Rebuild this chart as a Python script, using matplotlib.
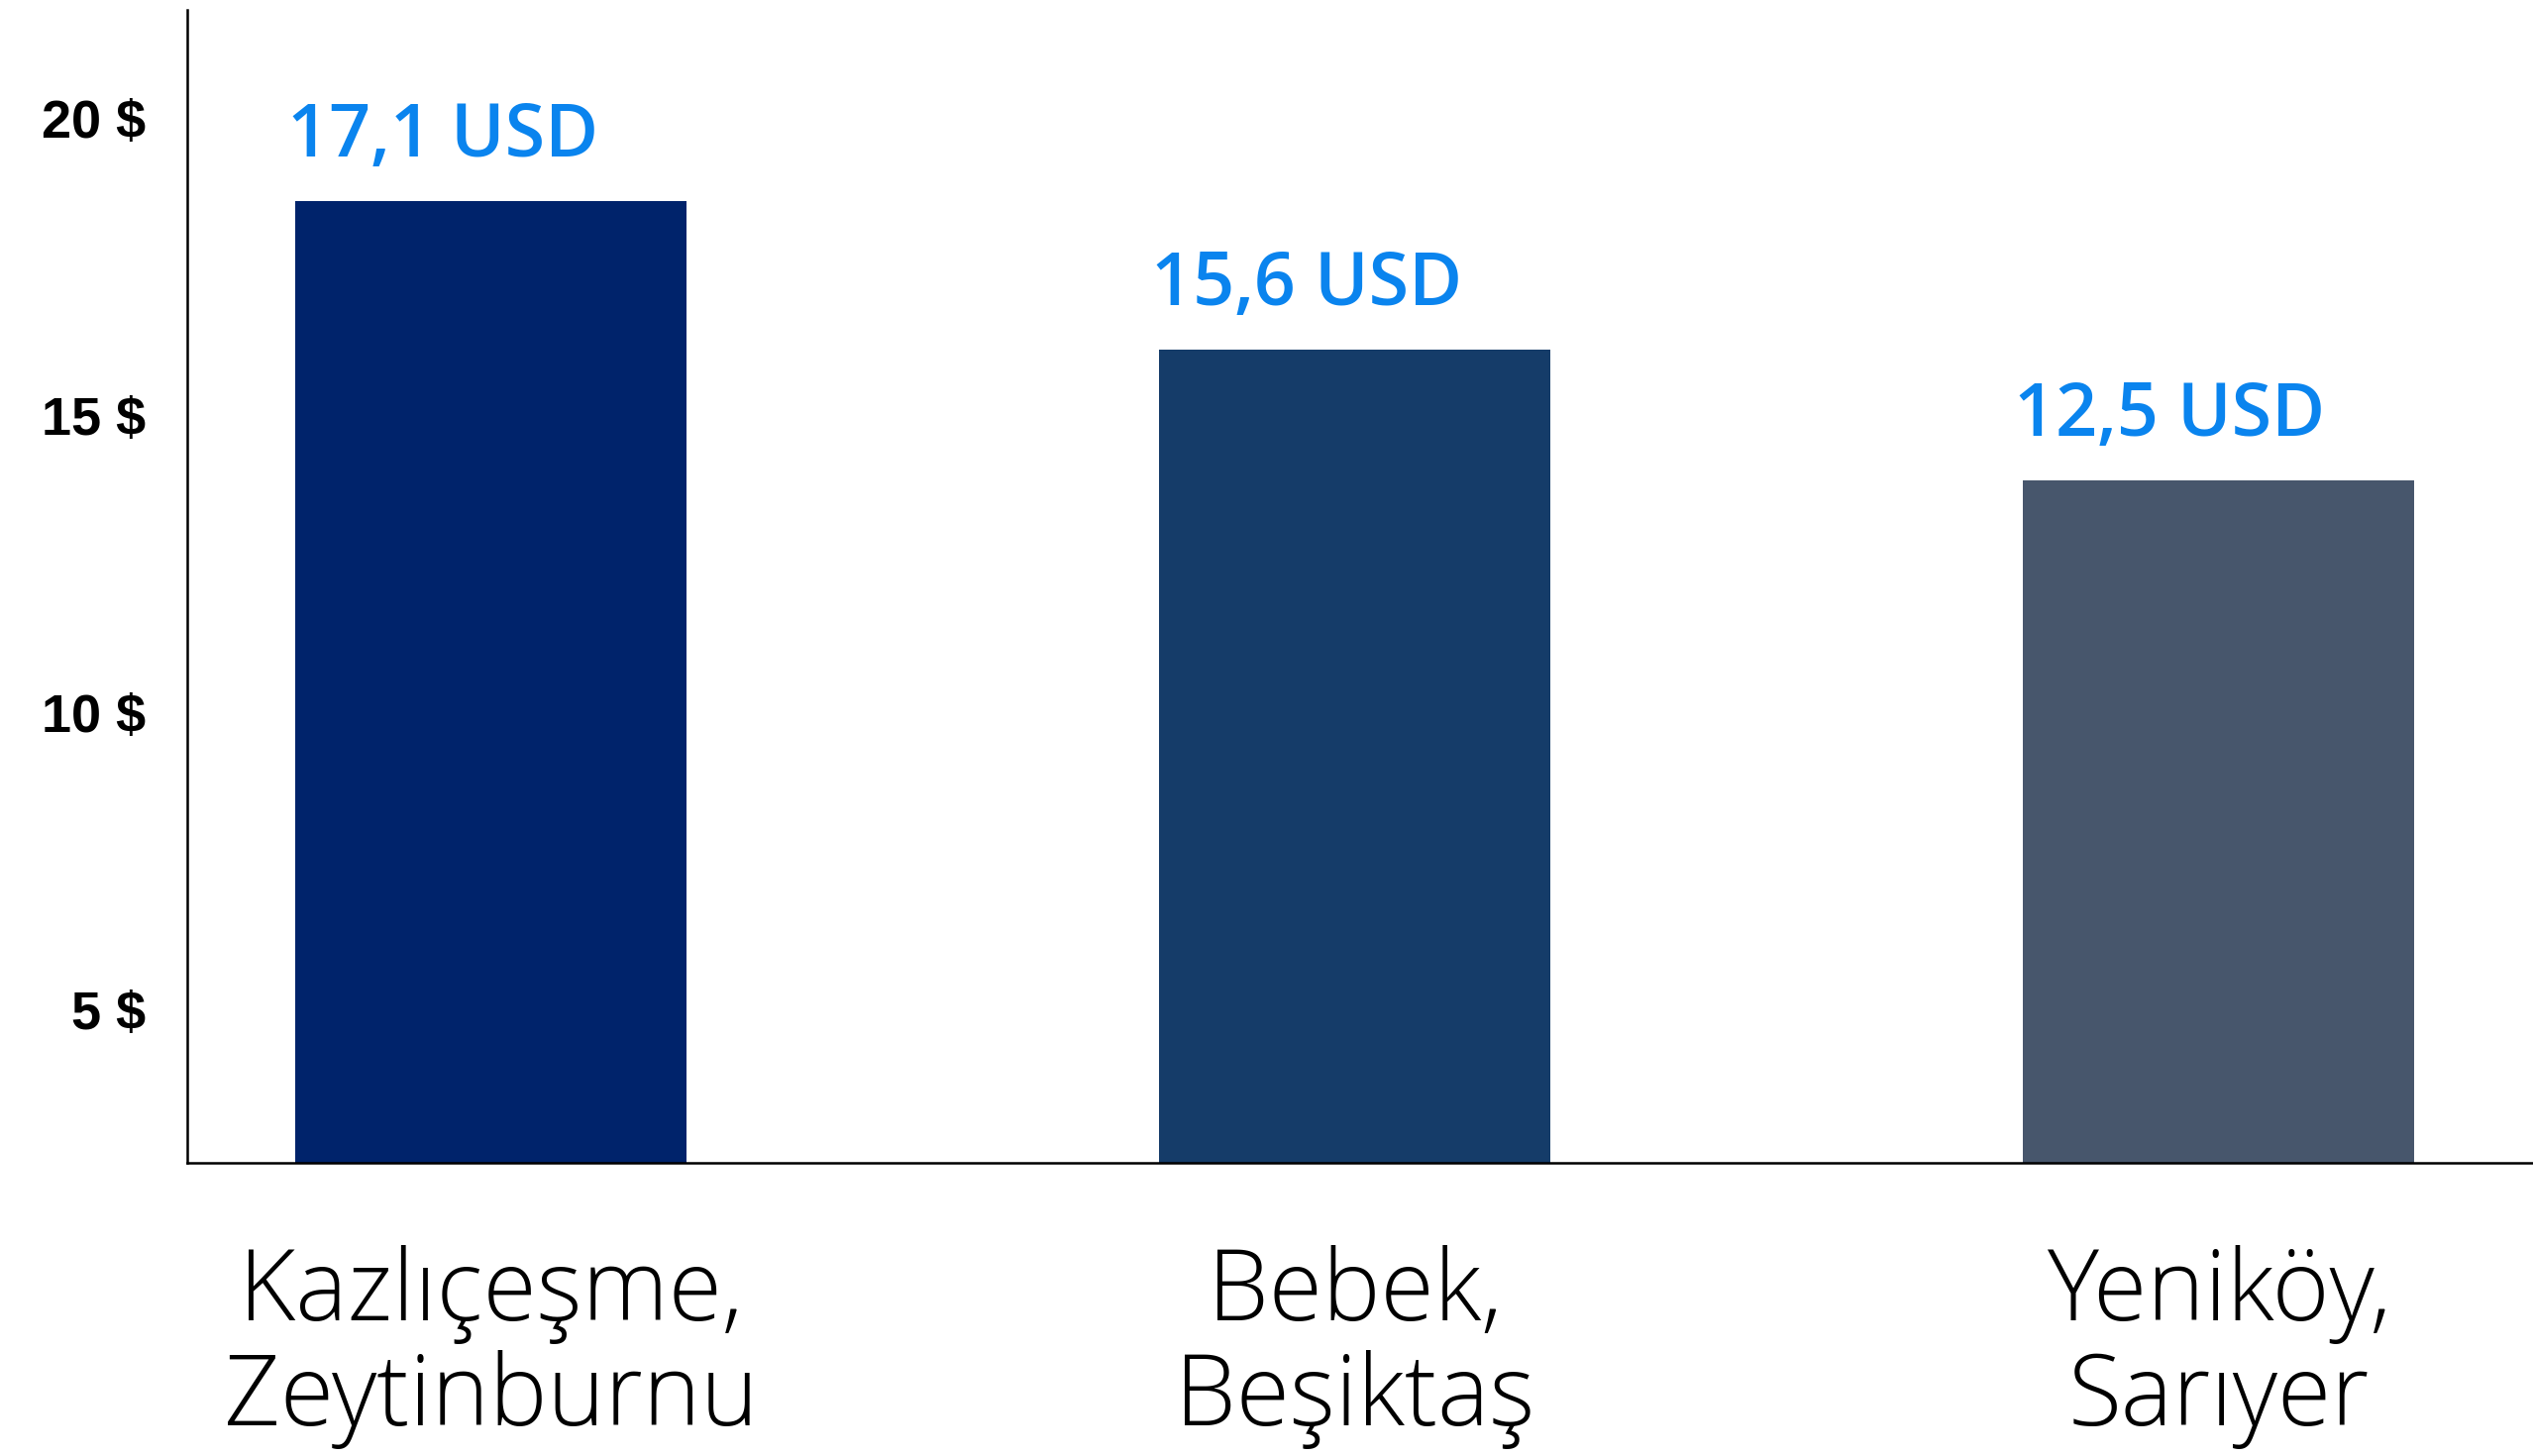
import numpy as np
import matplotlib.pyplot as plt

districts = ["Kazlıçeşme,\nZeytinburnu", "Bebek,\nBeşiktaş", "Yeniköy,\nSarıyer"]
bar_heights = [18.6, 16.1, 13.9]
value_labels = ["17,1 USD", "15,6 USD", "12,5 USD"]
ytick_vals = [5, 10, 15, 20]
ytick_labels = ["5 $", "10 $", "15 $", "20 $"]
colors = ["#00236b", "#153c69", "#47566c"]

fig = plt.figure(figsize=(25.57, 14.70), dpi=100)
ax = fig.add_axes([0.0739, 0.2014, 0.9261, 0.7918])

x = np.arange(len(districts))
width = 0.453
ax.bar(x, bar_heights, width=width, color=colors, zorder=2)

for xi, h, lab in zip(x, bar_heights, value_labels):
    ax.text(xi - width/2 - 0.01, h + 0.75, lab, ha="left", va="baseline",
            fontsize=53, color="#0a84ee", fontweight="semibold",
            family="Open Sans")

ax.set_xlim(-0.352, 2.364)
ax.set_ylim(2.42, 21.82)

ax.set_yticks(ytick_vals)
ax.set_yticklabels(ytick_labels, fontsize=39, fontweight="bold",
                   family="Liberation Sans")
ax.set_xticks(x)
ax.set_xticklabels(districts, fontsize=71, family="Open Sans",
                   fontweight="light", linespacing=1.08)
ax.tick_params(axis="y", length=0, pad=30)
ax.tick_params(axis="x", length=0, pad=60)

for s in ["top", "right"]:
    ax.spines[s].set_visible(False)
for s in ["left", "bottom"]:
    ax.spines[s].set_linewidth(1.8)
    ax.spines[s].set_color("black")

plt.savefig("out.png", dpi=100)
